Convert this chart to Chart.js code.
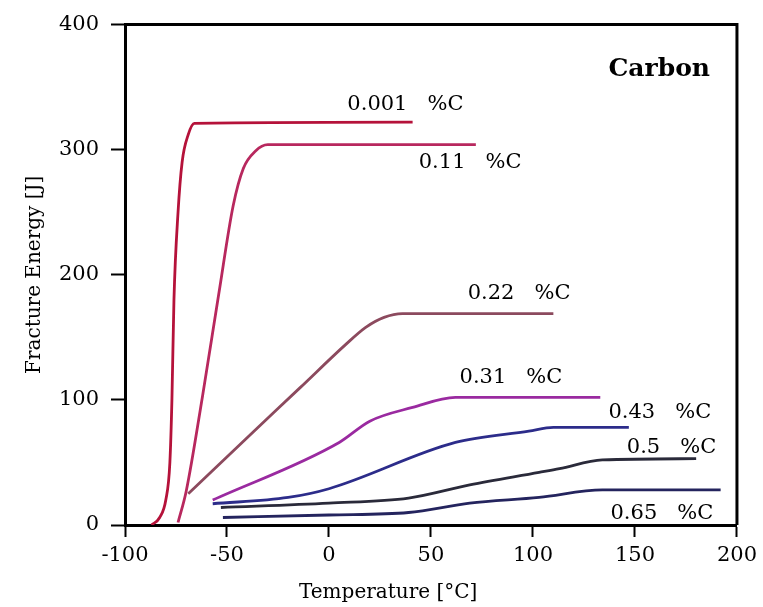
<!DOCTYPE html>
<html>
<head>
<meta charset="utf-8">
<title>Carbon - Fracture Energy</title>
<script src="https://cdn.jsdelivr.net/npm/chart.js@4.4.0/dist/chart.umd.min.js"></script>
<style>
  html, body { margin: 0; padding: 0; background: #fff; }
  #wrap { width: 763px; height: 607px; }
</style>
</head>
<body>
<div id="wrap"><canvas id="carbon-chart"></canvas></div>
<script>
// Temperature [°C] and fracture energy [J] for each carbon content
const temp001 = [-87, -83, -80, -78, -77, -76, -74, -72, -69, -66, 41];
const energy001 = [0, 6, 20, 50, 100, 180, 250, 290, 312, 321, 322];

const temp011 = [-74, -70, -62, -54, -47, -42, -36, -30, 72];
const energy011 = [2, 27, 103, 185, 255, 285, 299, 304, 304];

const temp022 = [-69, -40, -14, 8, 18, 27, 36, 110];
const energy022 = [25, 70, 110, 144, 158, 166, 169, 169];

const temp031 = [-57, 5, 20, 41, 62, 133];
const energy031 = [20, 66, 83, 94, 102, 102];

const temp043 = [-57, -20, 0, 62, 98, 110, 147];
const energy043 = [17, 22, 29, 66, 75, 78, 78];

const temp05 = [-53, 0, 39, 69, 103, 113, 134, 180];
const energy05 = [14, 17.5, 21.5, 32, 42, 45, 52, 53];

const temp065 = [-52, 0, 39, 69, 103, 134, 192];
const energy065 = [6, 8, 10, 17.5, 22, 28, 28];

const seriesNames = ['0.001', '0.11', '0.22', '0.31', '0.43', '0.5', '0.65'];
const xTicks = [-100, -50, 0, 50, 100, 150, 200];
const yTicks = [0, 100, 200, 300, 400];

const serif = "'DejaVu Serif', 'Liberation Serif', serif";
const lineColors = ['#b5123a', '#b8285e', '#8c4a5e', '#9a2aa0', '#2c2c8a', '#2a2a3a', '#24245e'];

function toPoints(xs, ys) {
    return xs.map((x, i) => ({x: x, y: ys[i]}));
}

const seriesData = [
    toPoints(temp001, energy001),
    toPoints(temp011, energy011),
    toPoints(temp022, energy022),
    toPoints(temp031, energy031),
    toPoints(temp043, energy043),
    toPoints(temp05, energy05),
    toPoints(temp065, energy065)
];

// label anchors in data units (left edge, vertical middle)
const seriesLabels = [
    {x: 9, y: 336},
    {x: 44, y: 290},
    {x: 68, y: 185},
    {x: 64, y: 118},
    {x: 137, y: 90},
    {x: 146, y: 62},
    {x: 138, y: 9.5}
];

const textPlugin = {
    id: 'textPlugin',
    afterDraw(chart) {
        const {ctx, chartArea, scales} = chart;
        ctx.save();
        // box frame on top and right
        ctx.strokeStyle = '#000';
        ctx.lineWidth = 3;
        ctx.beginPath();
        ctx.moveTo(chartArea.left, chartArea.top);
        ctx.lineTo(chartArea.right, chartArea.top);
        ctx.lineTo(chartArea.right, chartArea.bottom);
        ctx.stroke();

        ctx.fillStyle = '#000';
        ctx.textBaseline = 'middle';
        ctx.textAlign = 'left';
        ctx.font = '21px ' + serif;
        seriesNames.forEach((name, i) => {
            const pos = seriesLabels[i];
            ctx.fillText(name + '   %C', scales.x.getPixelForValue(pos.x), scales.y.getPixelForValue(pos.y));
        });

        ctx.font = 'bold 25px ' + serif;
        ctx.fillText('Carbon', scales.x.getPixelForValue(137), scales.y.getPixelForValue(364));

        ctx.textAlign = 'center';
        ctx.font = '20px ' + serif;
        ctx.fillText('Temperature [°C]', scales.x.getPixelForValue(29), chart.height - 14);
        ctx.restore();
    }
};

const carbonChart = document.getElementById('carbon-chart');
if (carbonChart) {
    const data = {
        datasets: seriesData.map((pts, i) => ({
            label: seriesNames[i] + ' %C',
            data: pts,
            showLine: true,
            borderColor: lineColors[i],
            backgroundColor: lineColors[i],
            borderWidth: 2.8,
            pointRadius: 0,
            cubicInterpolationMode: 'monotone'
        }))
    };

    const options = {
        responsive: true,
        maintainAspectRatio: false,
        animation: false,
        layout: {
            padding: {top: 22, right: 25, left: 0, bottom: 0}
        },
        plugins: {
            legend: {display: false},
            tooltip: {enabled: false}
        },
        scales: {
            x: {
                type: 'linear',
                min: xTicks[0],
                max: xTicks[xTicks.length - 1],
                afterFit: (scale) => { scale.height = 82; },
                ticks: {
                    stepSize: xTicks[1] - xTicks[0],
                    color: '#000',
                    padding: 6,
                    font: {family: serif, size: 21}
                },
                grid: {
                    drawOnChartArea: false,
                    tickLength: 12,
                    tickColor: '#000',
                    tickWidth: 2
                },
                border: {color: '#000', width: 3}
            },
            y: {
                min: yTicks[0],
                max: yTicks[yTicks.length - 1],
                afterFit: (scale) => { scale.width = 125; },
                ticks: {
                    stepSize: yTicks[1] - yTicks[0],
                    color: '#000',
                    padding: 12,
                    font: {family: serif, size: 21}
                },
                grid: {
                    drawOnChartArea: false,
                    tickLength: 14,
                    tickColor: '#000',
                    tickWidth: 2
                },
                border: {color: '#000', width: 3},
                title: {
                    display: true,
                    text: 'Fracture Energy [J]',
                    color: '#000',
                    padding: {top: 23, bottom: 0},
                    font: {family: serif, size: 20}
                }
            }
        }
    };

    new Chart(carbonChart, {
        type: 'scatter', data: data, options: options, plugins: [textPlugin]
    });
}
</script>
</body>
</html>
